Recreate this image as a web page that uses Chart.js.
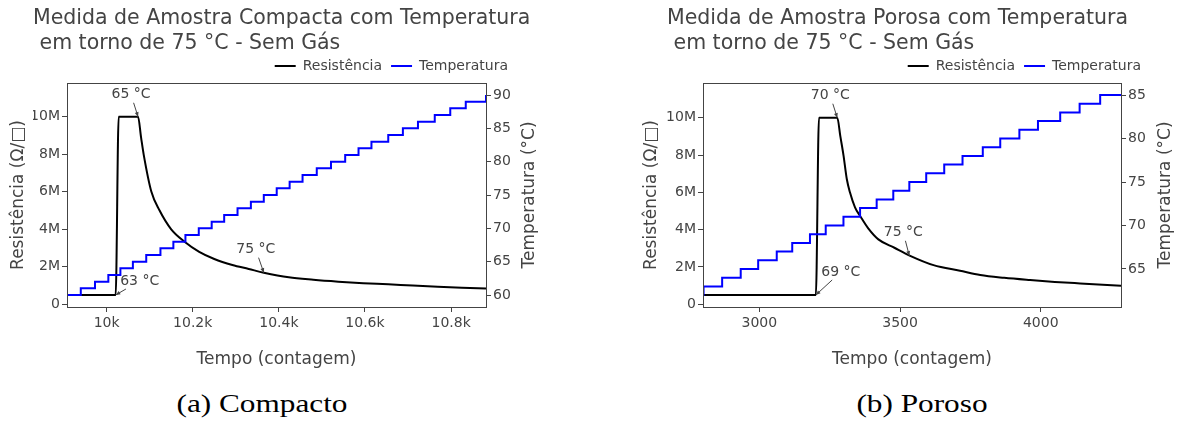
<!DOCTYPE html>
<html>
<head>
<meta charset="utf-8">
<script src="https://cdn.jsdelivr.net/npm/chart.js@4.4.1/dist/chart.umd.min.js"></script>
<style>
    html, body { margin: 0; padding: 0; background: #fff; }
    #page { position: relative; width: 1183px; height: 423px; overflow: hidden; }
    canvas { position: absolute; top: 0; }
    .caption {
        position: absolute; top: 391px; width: 300px; text-align: center;
        font: 25px/1 "Liberation Serif", serif; color: #000;
        transform: scaleX(1.25);
    }
</style>
</head>
<body>
<div id="page">
    <canvas id="chartA" width="560" height="380" style="left:0"></canvas>
    <canvas id="chartB" width="549" height="380" style="left:634px"></canvas>
    <div class="caption" style="left:112px">(a) Compacto</div>
    <div class="caption" style="left:772px">(b) Poroso</div>
</div>
<script>
'use strict'

// (a) Compacto
var compResTempo = [9908, 10021, 10028, 10073, 10080, 10086, 10104, 10123, 10150, 10181, 10215, 10250, 10292, 10330, 10365, 10423, 10480, 10538, 10596, 10654, 10711, 10769, 10825, 10881];
var compRes = [0.5e6, 0.5e6, 10e6, 10e6, 8.9e6, 8.0e6, 6.0e6, 5.0e6, 4.0e6, 3.34e6, 2.8e6, 2.42e6, 2.1e6, 1.89e6, 1.69e6, 1.44e6, 1.31e6, 1.21e6, 1.13e6, 1.07e6, 1.0e6, 0.94e6, 0.89e6, 0.85e6];
var compTempTempo = [9908, 9940, 9973, 10004, 10032, 10061, 10092, 10125, 10155, 10183, 10214, 10244, 10273, 10304, 10335, 10365, 10395, 10425, 10455, 10488, 10521, 10554, 10585, 10615, 10654, 10688, 10723, 10762, 10798, 10834, 10881];
var compTemp = [60, 61, 62, 63, 64, 65, 66, 67, 68, 69, 70, 71, 72, 73, 74, 75, 76, 77, 78, 79, 80, 81, 82, 83, 84, 85, 86, 87, 88, 89, 90];
var compXTicks = [10000, 10200, 10400, 10600, 10800];
var compXLabels = ['10k', '10.2k', '10.4k', '10.6k', '10.8k'];
var compTempTicks = [60, 65, 70, 75, 80, 85, 90];

// (b) Poroso
var porResTempo = [2800, 3201, 3212, 3277, 3288, 3299, 3311, 3322, 3340, 3360, 3387, 3423, 3480, 3536, 3619, 3713, 3785, 3870, 3962, 4050, 4140, 4285];
var porRes = [0.5e6, 0.5e6, 10e6, 10e6, 9.0e6, 8.0e6, 6.7e6, 6.0e6, 5.2e6, 4.69e6, 4.07e6, 3.48e6, 3.03e6, 2.6e6, 2.1e6, 1.8e6, 1.57e6, 1.42e6, 1.3e6, 1.2e6, 1.12e6, 1.0e6];
var porTempTempo = [2800, 2802, 2868, 2934, 2996, 3062, 3117, 3180, 3236, 3299, 3358, 3417, 3476, 3533, 3593, 3657, 3722, 3794, 3856, 3924, 3990, 4069, 4138, 4211, 4285];
var porTemp = [62, 63, 64, 65, 66, 67, 68, 69, 70, 71, 72, 73, 74, 75, 76, 77, 78, 79, 80, 81, 82, 83, 84, 85, 85];
var porXTicks = [3000, 3500, 4000];
var porXLabels = ['3000', '3500', '4000'];
var porTempTicks = [65, 70, 75, 80, 85];

var resTicks = [0, 2e6, 4e6, 6e6, 8e6, 10e6];
var resLabels = ['0', '2M', '4M', '6M', '8M', '10M'];

var compNotes = [
    {x: 10073, y: 10e6, text: '65 °C', ax: -7, ay: -22},
    {x: 10021, y: 0.5e6, text: '63 °C', ax: 24, ay: -14},
    {x: 10365, y: 1.69e6, text: '75 °C', ax: -8, ay: -23}
];
var porNotes = [
    {x: 3277, y: 10e6, text: '70 °C', ax: -7, ay: -22},
    {x: 3201, y: 0.5e6, text: '69 °C', ax: 25, ay: -23},
    {x: 3533, y: 2.6e6, text: '75 °C', ax: -6, ay: -23}
];

Chart.defaults.font.family = "'DejaVu Sans', sans-serif";
Chart.defaults.color = '#444';

function toPoints(xs, ys) {
    return xs.map(function (x, i) { return {x: x, y: ys[i]}; });
}

function align(p) {
    return Math.round(p - 0.5) + 0.5;
}

var extrasPlugin = {
    id: 'extras',
    beforeDraw(chart) {
        // deixa o titulo passar por cima da legenda sem ser comprimido
        chart.titleBlock.right = chart.width;
    },
    afterDatasetsDraw(chart, args, opts) {
        var ctx = chart.ctx;
        var area = chart.chartArea;
        ctx.save();
        ctx.strokeStyle = '#444';
        ctx.lineWidth = 1;
        var l = align(area.left), t = align(area.top), r = align(area.right), b = align(area.bottom);
        ctx.strokeRect(l, t, r - l, b - t);

        ctx.font = '14px "DejaVu Sans"';
        ctx.textAlign = 'center';
        ctx.textBaseline = 'middle';
        ctx.fillStyle = '#444';
        opts.notes.forEach(function (n) {
            var px = chart.scales.x.getPixelForValue(n.x);
            var py = chart.scales.y.getPixelForValue(n.y);
            var tx = px + n.ax, ty = py + n.ay;
            var w = ctx.measureText(n.text).width;
            var dx = px - tx, dy = py - ty;
            var k = Math.min((w / 2 + 1) / Math.max(Math.abs(dx), 1e-6), 8 / Math.max(Math.abs(dy), 1e-6));
            ctx.beginPath();
            ctx.moveTo(tx + dx * k, ty + dy * k);
            ctx.lineTo(px, py);
            ctx.stroke();
            var ang = Math.atan2(dy, dx);
            ctx.beginPath();
            ctx.moveTo(px, py);
            ctx.lineTo(px - 5 * Math.cos(ang - 0.4), py - 5 * Math.sin(ang - 0.4));
            ctx.lineTo(px - 5 * Math.cos(ang + 0.4), py - 5 * Math.sin(ang + 0.4));
            ctx.closePath();
            ctx.fill();
            ctx.fillText(n.text, tx, ty);
        });

        // titulo do eixo direito, lido de baixo para cima
        ctx.translate(area.right + opts.rightTitleGap, (area.top + area.bottom) / 2);
        ctx.rotate(-Math.PI / 2);
        ctx.font = '17px "DejaVu Sans"';
        ctx.fillText(opts.rightTitle, 0, 0);
        ctx.restore();
    }
};

function fixedTicks(values) {
    return function (scale) {
        scale.ticks = values.map(function (v) { return {value: v}; });
    };
}

function makeChart(id, c) {
    var tickGrid = {display: true, drawOnChartArea: false, tickLength: 5, color: '#444'};
    return new Chart(document.getElementById(id), {
        type: 'line',
        data: {
            datasets: [
                {label: 'Resistência', data: toPoints(c.resTempo, c.res), borderColor: '#000', backgroundColor: '#000',
                    borderWidth: 2, pointRadius: 0, yAxisID: 'y', order: 1, cubicInterpolationMode: 'monotone'},
                {label: 'Temperatura', data: toPoints(c.tempTempo, c.temp), borderColor: '#0000ff', backgroundColor: '#0000ff',
                    borderWidth: 2, pointRadius: 0, stepped: true, yAxisID: 'y2', order: 0}
            ]
        },
        options: {
            responsive: false,
            animation: false,
            events: [],
            layout: {padding: {left: 33, right: c.padRight, top: 0, bottom: 0}},
            scales: {
                x: {
                    type: 'linear', position: 'bottom', min: c.xMin, max: c.xMax,
                    afterBuildTicks: fixedTicks(c.xTicks),
                    afterFit: function (s) { s.height = 73; },
                    ticks: {font: {size: 14}, padding: 3, maxRotation: 0,
                        callback: function (v, i) { return c.xLabels[i]; }},
                    grid: tickGrid,
                    border: {display: false},
                    title: {display: true, text: 'Tempo (contagem)', font: {size: 17}, padding: {top: 0, bottom: 10}}
                },
                y: {
                    type: 'linear', position: 'left', min: c.yMin, max: c.yMax,
                    afterBuildTicks: fixedTicks(resTicks),
                    afterFit: function (s) { s.width = c.leftWidth; },
                    ticks: {font: {size: 14}, padding: 2,
                        callback: function (v, i) { return resLabels[i]; }},
                    grid: tickGrid,
                    border: {display: false},
                    title: {display: true, text: 'Resistência (Ω/□)', font: {size: 17}, padding: {top: c.leftTitlePad, bottom: 0}}
                },
                y2: {
                    type: 'linear', position: 'right', min: c.tMin, max: c.tMax,
                    afterBuildTicks: fixedTicks(c.tempTicks),
                    afterFit: function (s) { s.width = c.rightWidth; },
                    ticks: {font: {size: 14}, padding: 2,
                        callback: function (v) { return String(v); }},
                    grid: tickGrid,
                    border: {display: false}
                }
            },
            plugins: {
                title: {display: true, text: c.title, align: 'start', color: '#444',
                    font: {size: 20.5, weight: 'normal', lineHeight: 1.22}, padding: {top: 6, bottom: -6}},
                legend: {display: true, align: 'end',
                    labels: {color: '#444', font: {size: 14}, usePointStyle: true, pointStyle: 'line',
                        pointStyleWidth: 21, padding: 9,
                        sort: function (a, b) { return a.datasetIndex - b.datasetIndex; }}},
                tooltip: {enabled: false},
                extras: {notes: c.notes, rightTitle: 'Temperatura (°C)', rightTitleGap: c.rightTitleGap}
            }
        },
        plugins: [extrasPlugin]
    });
}

makeChart('chartA', {
    title: ['Medida de Amostra Compacta com Temperatura', ' em torno de 75 °C - Sem Gás'],
    resTempo: compResTempo, res: compRes, tempTempo: compTempTempo, temp: compTemp,
    xMin: 9908, xMax: 10881, xTicks: compXTicks, xLabels: compXLabels,
    yMin: -0.14e6, yMax: 11.8e6, tMin: 58.2, tMax: 91.8, tempTicks: compTempTicks,
    padRight: 43, leftWidth: 34, rightWidth: 31, leftTitlePad: -25, rightTitleGap: 44,
    notes: compNotes
});

makeChart('chartB', {
    title: ['Medida de Amostra Porosa com Temperatura', ' em torno de 75 °C - Sem Gás'],
    resTempo: porResTempo, res: porRes, tempTempo: porTempTempo, temp: porTemp,
    xMin: 2800, xMax: 4285, xTicks: porXTicks, xLabels: porXLabels,
    yMin: -0.145e6, yMax: 11.86e6, tMin: 60.63, tMax: 86.38, tempTicks: porTempTicks,
    padRight: 33, leftWidth: 36, rightWidth: 29, leftTitlePad: -25.5, rightTitleGap: 45,
    notes: porNotes
});
</script>
</body>
</html>
